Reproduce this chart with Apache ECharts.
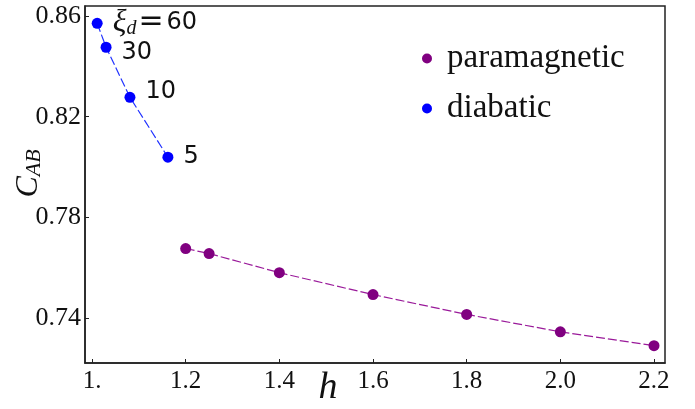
<!DOCTYPE html>
<html>
<head>
<meta charset="utf-8">
<script src="https://cdn.jsdelivr.net/npm/echarts@6/dist/echarts.min.js"></script>
<style>html,body{margin:0;padding:0;background:#fff}#c{width:695px;height:409px}</style>
</head>
<body>
<div id="c"></div>
<script>
const diabaticH = [1.011, 1.030, 1.081, 1.162];
const diabaticC = [0.8571, 0.8476, 0.8277, 0.8039];
const diabaticXi = [60, 30, 10, 5];
const paraH = [1.2, 1.25, 1.4, 1.6, 1.8, 2.0, 2.2];
const paraC = [0.7676, 0.7656, 0.7580, 0.7493, 0.7414, 0.7345, 0.7290];
const xTicks = [1.0, 1.2, 1.4, 1.6, 1.8, 2.0, 2.2];
const yTicks = [0.74, 0.78, 0.82, 0.86];

const serif = 'Liberation Serif';
const sans = 'DejaVu Sans';
const labelOffsets = [[0, -1], [0, 6], [0, -6], [0, 0]];

const chart = echarts.init(document.getElementById('c'));
chart.setOption({
  animation: false,
  grid: { left: 85, right: 30, top: 6, bottom: 46, containLabel: false, outerBoundsMode: 'none',
    show: true, borderColor: '#222', borderWidth: 1.5 },
  legend: {
    data: ['paramagnetic', 'diabatic'],
    orient: 'vertical', left: 417, top: 37, icon: 'circle',
    itemWidth: 10, itemHeight: 10, itemGap: 17,
    textStyle: { fontFamily: serif, fontSize: 33, color: '#111', padding: [0, 0, 0, 10] }
  },
  xAxis: {
    type: 'value', min: 0.985, max: 2.2235,
    name: 'h', nameLocation: 'middle', nameGap: 6, nameMoveOverlap: false,
    nameTextStyle: { fontFamily: serif, fontStyle: 'italic', fontSize: 38, color: '#111', padding: [0, 94, 0, 0] },
    axisLine: { show: true, lineStyle: { color: '#222', width: 1.5 } },
    axisTick: { show: true, inside: true, length: 4, customValues: xTicks, lineStyle: { color: '#222' } },
    axisLabel: { customValues: xTicks, margin: 6, fontFamily: serif, fontSize: 25, color: '#111',
      formatter: v => (Math.abs(v - 1) < 1e-9 ? '1.' : v.toFixed(1)) },
    splitLine: { show: false }
  },
  yAxis: {
    type: 'value', min: 0.7221, max: 0.864,
    name: '{c|C}{s|AB}', nameLocation: 'middle', nameGap: 40, nameRotate: 90, nameMoveOverlap: false,
    nameTextStyle: {
      padding: [0, 0, 0, 22],
      rich: {
        c: { fontFamily: serif, fontStyle: 'italic', fontSize: 32, color: '#111', verticalAlign: 'bottom' },
        s: { fontFamily: serif, fontStyle: 'italic', fontSize: 22, color: '#111', verticalAlign: 'bottom', padding: [14, 0, 0, 0] }
      }
    },
    axisLine: { show: true, lineStyle: { color: '#222', width: 1.5 } },
    axisTick: { show: true, inside: true, length: 4, customValues: yTicks, lineStyle: { color: '#222' } },
    axisLabel: { customValues: yTicks, margin: 4, fontFamily: serif, fontSize: 26, color: '#111',
      formatter: v => v.toFixed(2) },
    splitLine: { show: false }
  },
  series: [
    {
      name: 'paramagnetic', type: 'line',
      data: paraH.map((h, i) => [h, paraC[i]]),
      symbol: 'circle', symbolSize: 11,
      itemStyle: { color: '#800080' },
      lineStyle: { color: '#9a1a9a', width: 1.2, type: [9, 3] }
    },
    {
      name: 'diabatic', type: 'line',
      data: diabaticH.map((h, i) => ({
        value: [h, diabaticC[i]],
        label: {
          show: true, position: 'right', distance: 10, offset: labelOffsets[i],
          formatter: i === 0 ? '{xi|ξ}{sub|d}{eq|=}{n|' + diabaticXi[i] + '}' : String(diabaticXi[i])
        }
      })),
      symbol: 'circle', symbolSize: 11,
      itemStyle: { color: '#0000ff' },
      lineStyle: { color: '#2233ff', width: 1.2, type: [9, 3] },
      label: {
        fontFamily: sans, fontSize: 24, color: '#111',
        rich: {
          xi: { fontFamily: serif, fontStyle: 'italic', fontSize: 32, color: '#111' },
          sub: { fontFamily: serif, fontStyle: 'italic', fontSize: 20, color: '#111', verticalAlign: 'bottom', padding: [12, 0, 0, 0] },
          eq: { fontFamily: sans, fontSize: 30, color: '#111', padding: [0, 3, 0, 2] },
          n: { fontFamily: sans, fontSize: 24, color: '#111' }
        }
      }
    }
  ]
});
</script>
</body>
</html>
